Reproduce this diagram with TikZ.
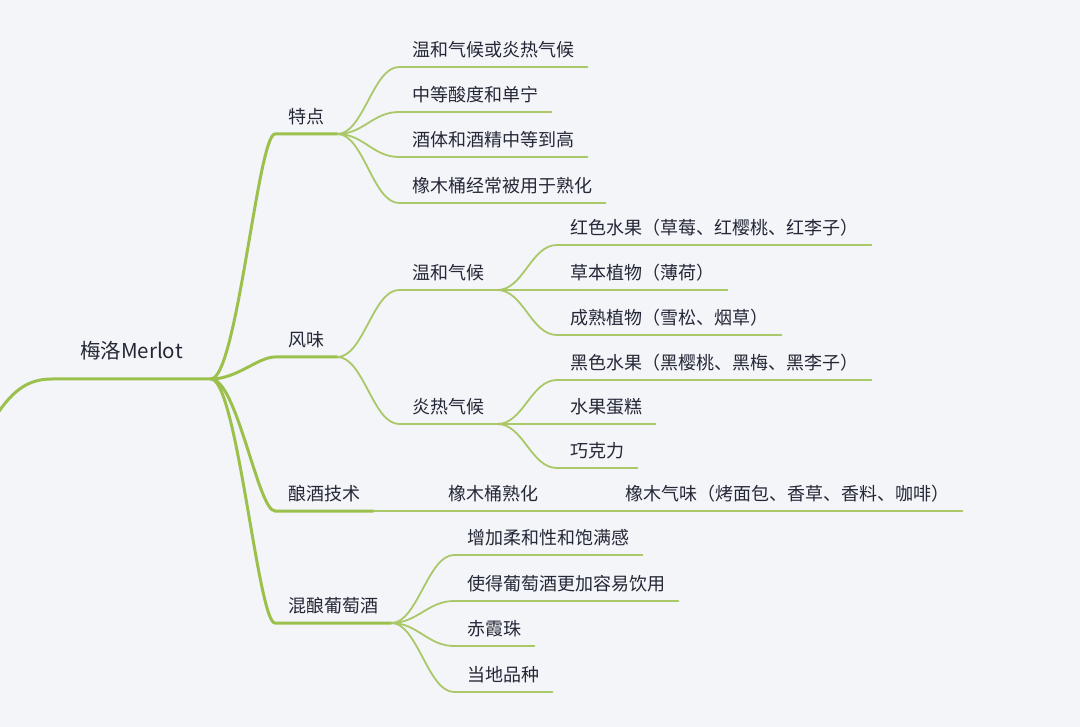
\documentclass[tikz,border=0pt]{standalone}
\usepackage{fontspec}
\setmainfont{Noto Sans CJK SC}
\usepackage{tikz}
\usetikzlibrary{positioning}
\definecolor{paper}{RGB}{244,245,249}
\definecolor{ink}{RGB}{36,40,54}
\definecolor{trunkgreen}{RGB}{155,193,76}
\definecolor{twiggreen}{RGB}{170,200,104}
\tikzset{
  topic/.style={anchor=south west,inner xsep=13pt,inner ysep=10pt,text depth=0pt,
    text=ink,font=\fontsize{18}{20}\selectfont},
  central/.style={topic,inner xsep=28pt,inner ysep=20pt,
    font=\fontsize{20.5}{24}\selectfont},
  trunk/.style={draw=trunkgreen,line width=3pt,line cap=round},
  twig/.style={draw=twiggreen,line width=1.8pt,line cap=round},
}
\begin{document}
\begin{tikzpicture}[x=1pt,y=-1pt]
  \useasboundingbox (0,0) rectangle (1080,727);
  \clip (0,0) rectangle (1080,727);
  \fill[paper] (0,0) rectangle (1080,727);
  \node[central] (merlot) at (52,379) {梅洛Merlot};
  \coordinate (stem) at (-14,432);
  % main branches
  \node[topic] (traits) at (275,134) {特点};
  \node[topic] (flavour) at (275,357) {风味};
  \node[topic] (making) at (275,511) {酿酒技术};
  \node[topic] (blend) at (275,623) {混酿葡萄酒};
  % traits
  \node[topic] (t1) at (399,67) {温和气候或炎热气候};
  \node[topic] (t2) at (399,112) {中等酸度和单宁};
  \node[topic] (t3) at (399,157) {酒体和酒精中等到高};
  \node[topic] (t4) at (399,203) {橡木桶经常被用于熟化};
  % flavour
  \node[topic] (mild) at (399,290) {温和气候};
  \node[topic] (hot) at (399,424) {炎热气候};
  \node[topic] (m1) at (557,245) {红色水果（草莓、红樱桃、红李子）};
  \node[topic] (m2) at (557,290) {草本植物（薄荷）};
  \node[topic] (m3) at (557,335) {成熟植物（雪松、烟草）};
  \node[topic] (h1) at (557,380) {黑色水果（黑樱桃、黑梅、黑李子）};
  \node[topic] (h2) at (557,424) {水果蛋糕};
  \node[topic] (h3) at (557,468) {巧克力};
  % wine making
  \node[topic] (oak) at (435,511) {橡木桶熟化};
  \node[topic] (aroma) at (612,511) {橡木气味（烤面包、香草、香料、咖啡）};
  % blending
  \node[topic] (b1) at (454,555) {增加柔和性和饱满感};
  \node[topic] (b2) at (454,601) {使得葡萄酒更加容易饮用};
  \node[topic] (b3) at (454,646) {赤霞珠};
  \node[topic] (b4) at (454,692) {当地品种};

  \draw[trunk] (stem) .. controls +(22,-38) and +(-28,0) .. (merlot.south west)
    -- (merlot.south east);
  \foreach \b in {traits,flavour,making,blend}
    \draw[trunk] (merlot.south east) .. controls +(26,0) and +(-17,0) .. (\b.south west)
      -- (\b.south east);
  \foreach \c in {t1,t2,t3,t4}
    \draw[twig] (traits.south east) .. controls +(26,0) and +(-26,0) .. (\c.south west)
      -- (\c.south east);
  \foreach \c in {mild,hot}
    \draw[twig] (flavour.south east) .. controls +(26,0) and +(-26,0) .. (\c.south west)
      -- (\c.south east);
  \foreach \c in {m1,m2,m3}
    \draw[twig] (mild.south east) .. controls +(26,0) and +(-26,0) .. (\c.south west)
      -- (\c.south east);
  \foreach \c in {h1,h2,h3}
    \draw[twig] (hot.south east) .. controls +(26,0) and +(-26,0) .. (\c.south west)
      -- (\c.south east);
  \draw[twig] (making.south east) -- (oak.south west) -- (oak.south east)
    -- (aroma.south west) -- (aroma.south east);
  \foreach \c in {b1,b2,b3,b4}
    \draw[twig] (blend.south east) .. controls +(26,0) and +(-26,0) .. (\c.south west)
      -- (\c.south east);
\end{tikzpicture}
\end{document}
